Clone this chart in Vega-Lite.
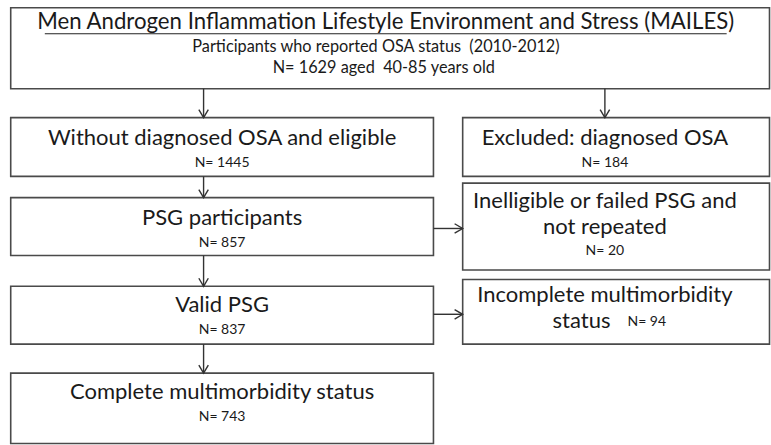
{
  "$schema": "https://vega.github.io/schema/vega-lite/v6.json",
  "width": 771,
  "height": 445,
  "autosize": {"type": "fit", "contains": "padding"},
  "padding": 0,
  "background": "white",
  "config": {"view": {"stroke": null}},
  "datasets": {
    "boxes": [
      {"id": "top", "x1": 11, "x2": 790, "y1": 8, "y2": 92},
      {"id": "without", "x1": 11, "x2": 445, "y1": 122, "y2": 183},
      {"id": "excluded", "x1": 475, "x2": 790, "y1": 122, "y2": 183},
      {"id": "psg", "x1": 11, "x2": 445, "y1": 205, "y2": 265},
      {"id": "inel", "x1": 475, "x2": 790, "y1": 190, "y2": 280},
      {"id": "valid", "x1": 11, "x2": 445, "y1": 297, "y2": 357},
      {"id": "incomp", "x1": 475, "x2": 790, "y1": 290, "y2": 357},
      {"id": "complete", "x1": 11, "x2": 445, "y1": 387, "y2": 460}
    ],
    "links": [
      {"x1": 209, "x2": 209, "y1": 92, "y2": 122, "dir": "down"},
      {"x1": 621, "x2": 621, "y1": 92, "y2": 122, "dir": "down"},
      {"x1": 209, "x2": 209, "y1": 183, "y2": 205, "dir": "down"},
      {"x1": 209, "x2": 209, "y1": 265, "y2": 297, "dir": "down"},
      {"x1": 209, "x2": 209, "y1": 357, "y2": 387, "dir": "down"},
      {"x1": 445, "x2": 475, "y1": 237, "y2": 237, "dir": "right"},
      {"x1": 445, "x2": 475, "y1": 326, "y2": 326, "dir": "right"}
    ],
    "labels": [
      {"x": 396, "y": 23, "t": "Men Androgen Inflammation Lifestyle Environment and Stress (MAILES)", "role": "title"},
      {"x": 386, "y": 49, "t": "Participants who reported OSA status\u00a0 (2010-2012)", "role": "sub"},
      {"x": 394, "y": 71, "t": "N= 1629 aged\u00a0 40-85 years old", "role": "sub"},
      {"x": 228, "y": 143, "t": "Without diagnosed OSA and eligible", "role": "label"},
      {"x": 228, "y": 169, "t": "N= 1445", "role": "count"},
      {"x": 621, "y": 143, "t": "Excluded: diagnosed OSA", "role": "label"},
      {"x": 621, "y": 169, "t": "N= 184", "role": "count"},
      {"x": 228, "y": 226, "t": "PSG participants", "role": "label"},
      {"x": 228, "y": 252, "t": "N= 857", "role": "count"},
      {"x": 621, "y": 209, "t": "Inelligible or failed PSG and", "role": "label"},
      {"x": 621, "y": 235, "t": "not repeated", "role": "label"},
      {"x": 621, "y": 260, "t": "N= 20", "role": "count"},
      {"x": 228, "y": 316, "t": "Valid PSG", "role": "label"},
      {"x": 228, "y": 342, "t": "N= 837", "role": "count"},
      {"x": 621, "y": 306, "t": "Incomplete multimorbidity", "role": "label"},
      {"x": 597, "y": 333, "t": "status", "role": "label"},
      {"x": 664, "y": 334, "t": "N= 94", "role": "count"},
      {"x": 228, "y": 407, "t": "Complete multimorbidity status", "role": "label"},
      {"x": 228, "y": 433, "t": "N= 743", "role": "count"}
    ],
    "underline": [
      {"x1": 46, "x2": 746, "y1": 35}
    ]
  },
  "layer": [
    {
      "data": {"name": "boxes"},
      "mark": {"type": "rect", "fill": "white", "stroke": "#4a4a4a", "strokeWidth": 1.6},
      "encoding": {
        "x": {"field": "x1", "type": "quantitative", "scale": {"domain": [0, 771], "nice": false, "zero": false}, "axis": null},
        "x2": {"field": "x2"},
        "y": {"field": "y1", "type": "quantitative", "scale": {"domain": [445, 0], "nice": false, "zero": false}, "axis": null},
        "y2": {"field": "y2"}
      }
    },
    {
      "data": {"name": "links"},
      "mark": {"type": "rule", "stroke": "#333333", "strokeWidth": 1.4},
      "encoding": {
        "x": {"field": "x1", "type": "quantitative"},
        "x2": {"field": "x2"},
        "y": {"field": "y1", "type": "quantitative"},
        "y2": {"field": "y2"}
      }
    },
    {
      "data": {"name": "links"},
      "transform": [{"filter": "datum.dir === 'down'"}],
      "mark": {"type": "point", "shape": "M-1,-1.7L0,0L1,-1.7", "filled": false, "stroke": "#333333", "strokeWidth": 1.4, "size": 90, "opacity": 1},
      "encoding": {
        "x": {"field": "x2", "type": "quantitative"},
        "y": {"field": "y2", "type": "quantitative"}
      }
    },
    {
      "data": {"name": "links"},
      "transform": [{"filter": "datum.dir === 'right'"}],
      "mark": {"type": "point", "shape": "M-1.7,-1L0,0L-1.7,1", "filled": false, "stroke": "#333333", "strokeWidth": 1.4, "size": 90, "opacity": 1},
      "encoding": {
        "x": {"field": "x2", "type": "quantitative"},
        "y": {"field": "y2", "type": "quantitative"}
      }
    },
    {
      "data": {"name": "underline"},
      "mark": {"type": "rule", "stroke": "#222222", "strokeWidth": 1.2},
      "encoding": {
        "x": {"field": "x1", "type": "quantitative"},
        "x2": {"field": "x2"},
        "y": {"field": "y1", "type": "quantitative"}
      }
    },
    {
      "data": {"name": "labels"},
      "mark": {"type": "text", "font": "Lato", "color": "#1a1a1a", "align": "center", "baseline": "middle"},
      "encoding": {
        "x": {"field": "x", "type": "quantitative"},
        "y": {"field": "y", "type": "quantitative"},
        "text": {"field": "t"},
        "size": {"field": "role", "type": "nominal", "scale": {"type": "ordinal", "domain": ["title", "sub", "label", "count"], "range": [22.2, 16.3, 22, 14]}, "legend": null}
      }
    }
  ]
}
